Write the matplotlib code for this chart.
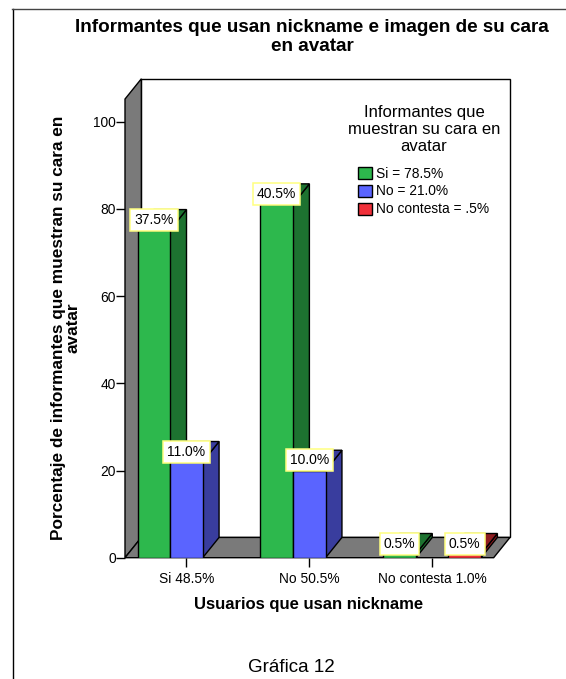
import matplotlib
matplotlib.use('Agg')
import matplotlib.pyplot as plt
from matplotlib.lines import Line2D
from matplotlib.patches import Patch, Polygon

plt.rcParams['font.family'] = ['Liberation Sans', 'DejaVu Sans']

categories = ['Si 48.5%', 'No 50.5%', 'No contesta 1.0%']
legend_labels = ['Si = 78.5%', 'No = 21.0%', 'No contesta = .5%']
yticks = [0, 20, 40, 60, 80, 100]

# bar heights per answer, None where the group has no bar
si_values = [75.2, 81.1, 0.9]
no_values = [22.0, 20.0, None]
nc_values = [None, None, 0.9]
si_labels = ['37.5%', '40.5%', '0.5%']
no_labels = ['11.0%', '10.0%', None]
nc_labels = [None, None, '0.5%']

FRONT = ['#2db84d', '#5a64ff', '#f0303a']
DARK = ['#1d7230', '#393d9e', '#8e1c20']
GREY = '#7a7a7a'
W, H = 566, 679

# depth of the fake 3d box, in data units
DX = 0.133
DY = 4.65
BAR_W = 0.265


def fx(px):
    return px / W


def fy(py):
    return 1 - py / H


def box3d(ax, x0, x1, v, front, dark):
    ax.add_patch(Polygon([(x1, 0), (x1 + DX, DY), (x1 + DX, v + DY), (x1, v)],
                         fc=dark, ec='black', lw=1, zorder=3))
    ax.add_patch(Polygon([(x0, v), (x0 + DX, v + DY), (x1 + DX, v + DY), (x1, v)],
                         fc=dark, ec='black', lw=1, zorder=3))
    ax.add_patch(Polygon([(x0, 0), (x0, v), (x1, v), (x1, 0)],
                         fc=front, ec='black', lw=1, zorder=3))


def value_label(ax, x, v, text):
    ax.text(x, v + DY / 2, text, ha='center', va='center', fontsize=10, zorder=6,
            bbox=dict(boxstyle='square,pad=0.29', fc='white', ec='#ffff80', lw=1.1))


fig = plt.figure(figsize=(W / 100, H / 100), dpi=100)
ax = fig.add_axes([fx(125), fy(557.7), fx(510) - fx(125), fy(79) - fy(557.7)])
ax.set_xlim(-0.5, 2.5 + DX)
ax.set_ylim(0, 109.8)
for s in ax.spines.values():
    s.set_visible(False)

top = 105.2
# back wall, side wall and floor
ax.add_patch(Polygon([(-0.5 + DX, DY), (-0.5 + DX, top + DY), (2.5 + DX, top + DY), (2.5 + DX, DY)],
                     fc='white', ec='black', lw=1, zorder=1, clip_on=False))
ax.add_patch(Polygon([(-0.5, 0), (-0.5, top), (-0.5 + DX, top + DY), (-0.5 + DX, DY)],
                     fc=GREY, ec='black', lw=1, zorder=2, clip_on=False))
ax.add_patch(Polygon([(-0.5, 0), (-0.5 + DX, DY), (2.5 + DX, DY), (2.5, 0)],
                     fc=GREY, ec='black', lw=1, zorder=2, clip_on=False))

series = [si_values, no_values, nc_values]
labels = [si_labels, no_labels, nc_labels]
for s, (vals, labs) in enumerate(zip(series, labels)):
    for c, (v, t) in enumerate(zip(vals, labs)):
        if v is None:
            continue
        x0 = c + (s - 1.5) * BAR_W
        box3d(ax, x0, x0 + BAR_W, v, FRONT[s], DARK[s])
        value_label(ax, x0 + BAR_W / 2, v, t)

ax.set_xticks(range(3))
ax.set_xticklabels(categories)
ax.set_yticks(yticks)
ax.tick_params(axis='both', length=6.5, width=1, labelsize=9.9, pad=0)
ax.tick_params(axis='x', pad=3.5)

handles = [Patch(fc=FRONT[i], ec='black', lw=1) for i in range(3)]
ax.legend(handles, legend_labels, loc='upper left', bbox_to_anchor=(fx(354), fy(162.5)),
          bbox_transform=fig.transFigure, frameon=False, fontsize=9.9, handlelength=1.0,
          handleheight=0.95, handletextpad=0.3, labelspacing=0.28, borderpad=0.3, borderaxespad=0)

fig.text(fx(424), fy(129.5), 'Informantes que\nmuestran su cara en\navatar', ha='center', va='center',
         fontsize=12, linespacing=1.17)
fig.text(fx(312), fy(37), 'Informantes que usan nickname e imagen de su cara\nen avatar', ha='center',
         va='center', fontsize=13.6, fontweight='bold', linespacing=1.16)
fig.text(fx(66), fy(328), 'Porcentaje de informantes que muestran su cara en\navatar', ha='center',
         va='center', rotation=90, fontsize=12.4, fontweight='bold', linespacing=1.0)
fig.text(fx(309), fy(605), 'Usuarios que usan nickname', ha='center', va='center', fontsize=12,
         fontweight='bold')
fig.text(fx(291), fy(667.5), 'Gráfica 12', ha='center', va='center', fontsize=13.5)

# frame around the page
fig.add_artist(Line2D([fx(12.5), fx(12.5)], [0, fy(9)], color='black', lw=1))
fig.add_artist(Line2D([fx(12), 1], [fy(9), fy(9)], color='#444444', lw=1))

fig.savefig('out.png', dpi=100)
